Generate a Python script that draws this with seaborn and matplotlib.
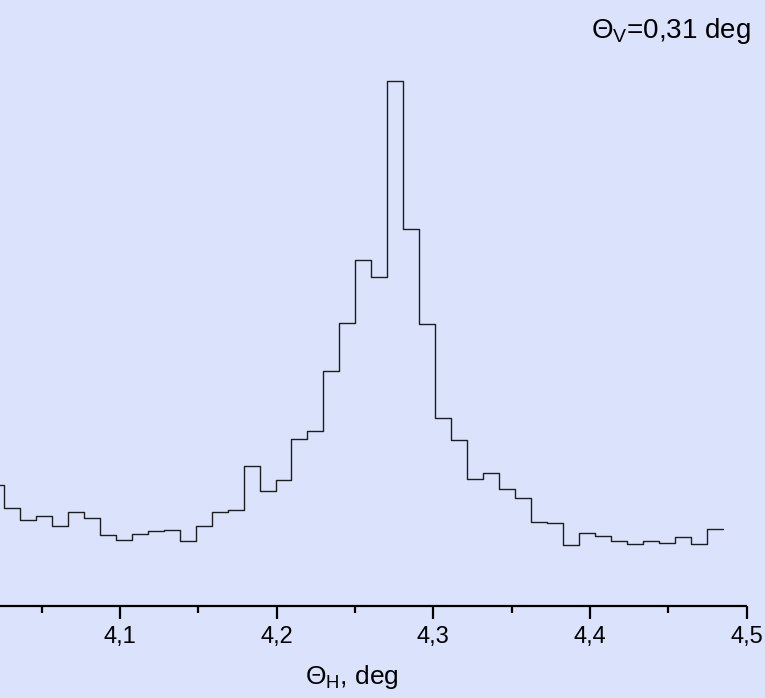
import numpy as np
import pandas as pd
import matplotlib
matplotlib.use("Agg")
import matplotlib.pyplot as plt
import seaborn as sns
from matplotlib.ticker import FixedLocator, FuncFormatter

# ---- data (arbitrary intensity units) ----
bin_start = 4.01577          # left edge of first (partly hidden) bin
bin_width = 0.010194
intensity = [121,
             97.7, 85.7, 90.3, 79.7, 94.3, 87.7, 71.3, 66, 72.3, 75,
             75.7, 65, 79.7, 93.7, 96.3, 139.7, 115, 126,
             166.7, 175.3, 234.7, 283.3, 345.7, 329, 524.7, 376.7, 282, 187.7, 165.7,
             126.7, 132.7, 117.3, 108, 84, 83, 61.3, 72.7, 70, 65, 61.7, 65, 63, 68.7, 62.3, 76.7]
major_ticks = [4.1, 4.2, 4.3, 4.4, 4.5]
minor_ticks = [4.05, 4.15, 4.25, 4.35, 4.45]
x_range = [4.02341, 4.5]
x_label = "Θ$_\\mathrm{H}$, deg"
annotation = "Θ$_\\mathrm{V}$=0,31 deg"

edges = bin_start + bin_width * np.arange(len(intensity) + 1)
df = pd.DataFrame({"theta_h": edges, "intensity": list(intensity) + [intensity[-1]]})

bg = "#dae2fc"
sns.set_theme(style="white")
plt.rcParams["font.family"] = ["Liberation Sans", "DejaVu Sans"]
plt.rcParams["mathtext.fontset"] = "custom"
plt.rcParams["mathtext.rm"] = "Liberation Sans"
plt.rcParams["mathtext.it"] = "Liberation Sans"
plt.rcParams["text.color"] = "black"
plt.rcParams["xtick.color"] = "black"

fig = plt.figure(figsize=(7.65, 6.98), dpi=100, facecolor=bg)
ax = fig.add_axes([0.0, 1 - 606 / 698, 746.7 / 765, 606 / 698])
ax.set_facecolor(bg)

sns.lineplot(data=df, x="theta_h", y="intensity", drawstyle="steps-post",
             color="#1e1e1e", linewidth=1.0, ax=ax)

ax.set_xlim(*x_range)
ax.set_ylim(0, 606)
for s in ["left", "right", "top", "bottom"]:
    ax.spines[s].set_visible(False)
# explicit x-axis line ending exactly at 4,5
ax.plot(x_range, [0, 0], color="black", linewidth=1.6, solid_capstyle="butt",
        clip_on=False, zorder=3)
ax.set_yticks([])
ax.set_ylabel("")
ax.set_xlabel("")
ax.xaxis.set_major_locator(FixedLocator(major_ticks))
ax.xaxis.set_minor_locator(FixedLocator(minor_ticks))
ax.xaxis.set_major_formatter(FuncFormatter(lambda v, p: f"{v:.1f}".replace(".", ",")))
ax.tick_params(axis="x", which="major", direction="out", length=9.5, width=1.6,
               color="black", labelcolor="black", labelsize=17, pad=5, bottom=True)
ax.tick_params(axis="x", which="minor", direction="out", length=5, width=1.6,
               color="black", bottom=True)

fig.text(352 / 765, 1 - 684 / 698, x_label, ha="center", va="baseline",
         fontsize=19, color="black")
fig.text(750.7 / 765, 1 - 38 / 698, annotation, ha="right", va="baseline",
         fontsize=20, color="black")

fig.savefig("out.png", dpi=100, facecolor=bg)
